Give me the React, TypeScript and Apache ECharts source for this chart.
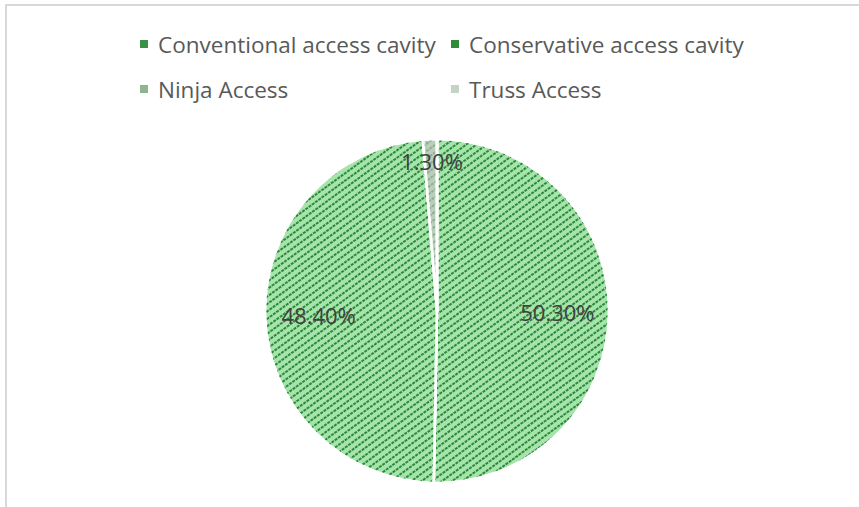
import React, { useEffect, useRef } from "react";
import * as echarts from "echarts";

const categories = [
  "Conventional access cavity",
  "Conservative access cavity",
  "Ninja Access",
  "Truss Access",
];
const values = [50.3, 48.4, 1.3, 0];
const labelTexts = ["50.30%", "48.40%", "1.30%", "0%"];
const sliceColors = ["#a6e4ac", "#a6e4ac", "#b9cfbb", "#cddacd"];
const stripeColors = ["#2b8a3a", "#2b8a3a", "#8fae92", "#b2c4b3"];
const legendColors = ["#3d8f45", "#2f8a3a", "#8db592", "#c3d4c4"];

export default function App() {
  const ref = useRef<HTMLDivElement>(null);
  useEffect(() => {
    if (!ref.current) return;
    const chart = echarts.init(ref.current, undefined, { renderer: "svg" });
    const center = [437, 311];
    const R = 172;
    const legendPos = [
      [138, 32],
      [449, 32],
      [138, 77],
      [449, 77],
    ];
    const decalFor = (c: string) => ({
      symbol: "rect",
      symbolSize: 1,
      color: c,
      dashArrayX: [2.5, 1],
      dashArrayY: [1.9, 3.8],
      rotation: -Math.PI / 5,
    });
    chart.setOption({
      animation: false,
      backgroundColor: "#ffffff",
      graphic: [
        {
          type: "rect",
          shape: { x: 6, y: 5, width: 900, height: 600 },
          style: { fill: "none", stroke: "#d9d9d9", lineWidth: 2 },
          silent: true,
          z: -10,
        },
      ],
      legend: categories.map((name, i) => ({
        data: [{ name, itemStyle: { color: legendColors[i], decal: "none" } }],
        left: legendPos[i][0],
        top: legendPos[i][1],
        padding: 0,
        itemWidth: 10,
        itemHeight: 10,
        icon: "rect",
        selectedMode: false,
        textStyle: {
          fontFamily: "Open Sans",
          fontSize: 22.5,
          color: "#595959",
          lineHeight: 24,
          padding: [0, 0, 0, 4],
        },
      })),
      series: [
        {
          type: "pie",
          center,
          radius: [0, R],
          startAngle: 90,
          clockwise: true,
          avoidLabelOverlap: false,
          label: { show: false },
          labelLine: { show: false },
          itemStyle: { borderColor: "#ffffff", borderWidth: 2.5 },
          data: categories.map((name, i) => ({
            name,
            value: values[i],
            itemStyle: { color: sliceColors[i], decal: decalFor(stripeColors[i]) },
          })),
        },
        {
          type: "pie",
          center,
          radius: [R * 0.4, R],
          startAngle: 90,
          clockwise: true,
          silent: true,
          avoidLabelOverlap: false,
          labelLine: { show: false },
          itemStyle: { color: "rgba(0,0,0,0)", borderWidth: 0 },
          label: {
            show: true,
            position: "inside",
            fontFamily: "Open Sans",
            fontSize: 22,
            color: "#404040",
          },
          data: categories.map((name, i) => ({
            name: name + " ",
            value: values[i],
            label: {
              formatter: labelTexts[i],
              offset: i >= 2 ? [0, -27] : i === 0 ? [-3, 0] : [5, 0],
            },
          })),
        },
      ],
    });
    return () => chart.dispose();
  }, []);
  return (
    <div
      ref={ref}
      style={{ position: "absolute", left: 0, top: 0, width: 859, height: 507 }}
    />
  );
}
